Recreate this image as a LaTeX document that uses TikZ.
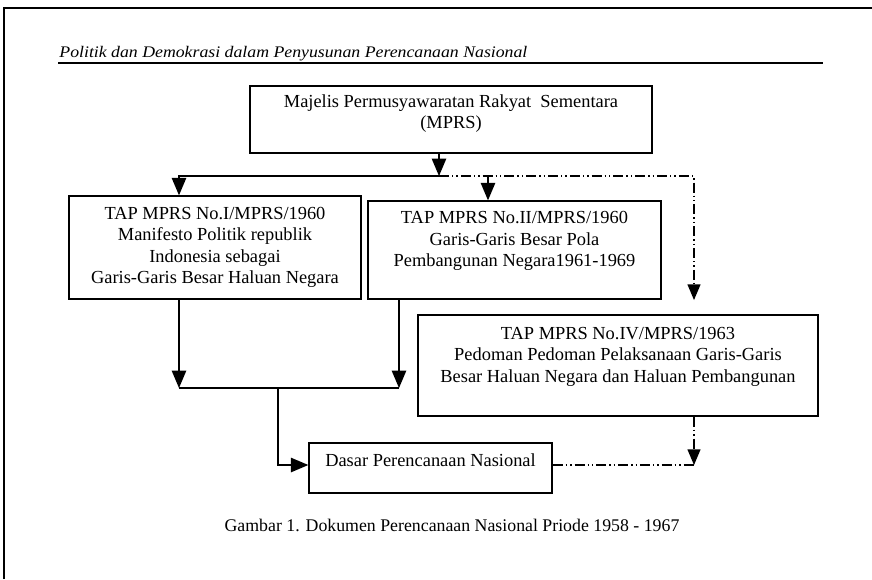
\documentclass[tikz,border=0pt]{standalone}
\usepackage{graphicx}
\usepackage{fontspec}
\setmainfont{Liberation Serif}
\usetikzlibrary{arrows}

\tikzset{
  box/.style={draw, line width=0.7pt, align=center, inner sep=0pt,
    font=\fontsize{9.2}{10.75}\selectfont},
  solidline/.style={line width=1pt},
  dashline/.style={line width=0.8pt,
    dash pattern=on 5pt off 1.5pt on 0.7pt off 1.5pt on 0.7pt off 1.5pt},
}

\begin{document}
\begin{tikzpicture}[x=0.5pt, y=-0.5pt, >=triangle 45]
  \useasboundingbox (0,0) rectangle (872,579);
  \fill[white] (0,0) rectangle (872,579);
  \draw[line width=0.8pt] (4,579) -- (4,8) -- (872,8);
  \node[anchor=base west, inner sep=0pt] (head) at (59,57)
    {\resizebox{234pt}{5.6pt}{\itshape Politik dan Demokrasi dalam Penyusunan Perencanaan Nasional}};
  \draw[line width=1pt] (58,63) -- (823,63);

  \node[box, minimum width=201pt, minimum height=33.5pt] (mprs) at (451,119.5)
    {Majelis Permusyawaratan Rakyat\ \ Sementara\\(MPRS)\\[-3pt]\mbox{}};
  \node[box, minimum width=146pt, minimum height=51.5pt] (tapI) at (215,247.5)
    {TAP MPRS No.I/MPRS/1960\\Manifesto Politik republik\\Indonesia sebagai\\Garis-Garis Besar Haluan Negara};
  \node[box, minimum width=146.5pt, minimum height=49pt] (tapII) at (514.5,250)
    {TAP MPRS No.II/MPRS/1960\\Garis-Garis Besar Pola\\Pembangunan Negara1961-1969\\\mbox{}};
  \node[box, minimum width=200pt, minimum height=50.5pt] (tapIV) at (618,365.5)
    {TAP MPRS No.IV/MPRS/1963\\Pedoman Pedoman Pelaksanaan Garis-Garis\\Besar Haluan Negara dan Haluan Pembangunan\\\mbox{}};
  \node[box, minimum width=121.5pt, minimum height=25pt, text height=6pt, text depth=8pt] (dasar) at (430.5,468)
    {Dasar Perencanaan Nasional};

  % junction points
  \coordinate (split) at (439,176);
  \coordinate (toI) at (179,176);
  \coordinate (toII) at (488,176);
  \coordinate (toIV) at (694,176);
  \coordinate (tipIV) at (694,300);
  \coordinate (joinL) at (179,388);
  \coordinate (joinR) at (399,388);
  \coordinate (drop) at (278,388);
  \coordinate (bend) at (278,465);
  \coordinate (endIV) at (694,465);

  \draw[solidline,->] (mprs.south -| split) -- (split);
  \draw[solidline,->] (split) -- (toI) -- (toI |- tapI.north);
  \draw[solidline,->] (toII) -- (toII |- tapII.north);
  \draw[dashline,->] (split) -- (toIV) -- (tipIV);
  \draw[solidline,->] (tapI.south -| joinL) -- (joinL);
  \draw[solidline,->] (tapII.south -| joinR) -- (joinR);
  \draw[solidline] (joinL) -- (joinR);
  \draw[solidline,->] (drop) -- (bend) -- (bend -| dasar.west);
  \draw[dashline] (dasar.east |- bend) -- (endIV);
  \draw[dashline,->] (tapIV.south -| endIV) -- (endIV);

  \node[font=\fontsize{8.9}{11}\selectfont] (caption) at (452,525)
    {Gambar 1. Dokumen Perencanaan Nasional Priode 1958 - 1967};
\end{tikzpicture}
\end{document}
